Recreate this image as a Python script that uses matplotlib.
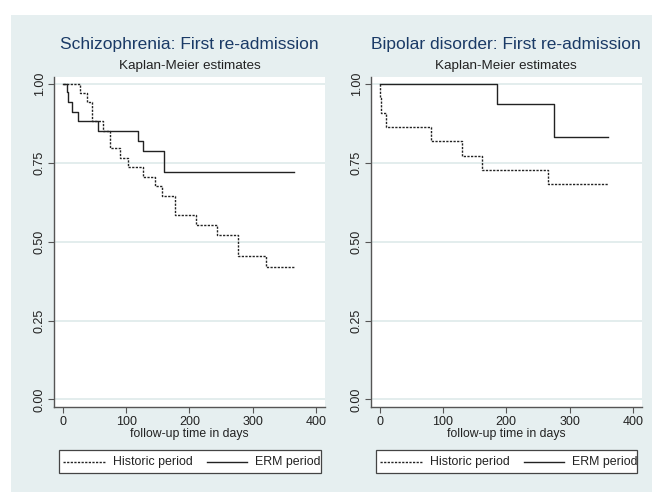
import matplotlib
matplotlib.use("Agg")
import matplotlib.pyplot as plt
from matplotlib.patches import Rectangle
from matplotlib.lines import Line2D

plt.rcParams['font.family'] = ['Liberation Sans', 'DejaVu Sans']

# ---- data ----
schiz_hist_t = [0, 26.8, 37.4, 46.3, 63.6, 74.2, 90, 103.1, 126.8, 145.2, 155.8, 177.9, 209.5, 244.2, 276.7, 320.4]
schiz_hist_s = [1.0, 0.970, 0.942, 0.883, 0.852, 0.796, 0.765, 0.736, 0.706, 0.675, 0.646, 0.585, 0.554, 0.520, 0.455, 0.421]
schiz_hist_end = 366

schiz_erm_t = [0, 6.8, 8.4, 13.7, 24.2, 54.8, 118.9, 125.8, 159.9]
schiz_erm_s = [1.0, 0.974, 0.942, 0.912, 0.882, 0.852, 0.820, 0.789, 0.722]
schiz_erm_end = 365

bip_hist_t = [0, 0.5, 2, 9.5, 81, 130.5, 162, 266]
bip_hist_s = [1.0, 0.955, 0.909, 0.864, 0.818, 0.773, 0.727, 0.682]
bip_hist_end = 361

bip_erm_t = [0, 185.8, 275.1]
bip_erm_s = [1.0, 0.9375, 0.833]
bip_erm_end = 361

titles = ["Schizophrenia: First re-admission", "Bipolar disorder: First re-admission"]
subtitle = "Kaplan-Meier estimates"
xlabel = "follow-up time in days"
legend_labels = ["Historic period", "ERM period"]
xticks = [0, 100, 200, 300, 400]
yticks = [0.00, 0.25, 0.50, 0.75, 1.00]

BG = '#e6eff0'
GRID = '#e1ecec'
NAVY = '#1a3a66'
LINEC = '#222222'
DOT = (0, (1.6, 1.0))

W, H = 652, 493
fig = plt.figure(figsize=(W / 100, H / 100), dpi=100)
fig.patches.append(Rectangle((11 / W, 1 / H), 1 - 11 / W, (492 - 14.6) / H,
                             transform=fig.transFigure, facecolor=BG, edgecolor='none', zorder=-10))

def fx(px): return px / W
def fy(py): return 1 - py / H

panels = [
    (54.3, schiz_hist_t, schiz_hist_s, schiz_hist_end, schiz_erm_t, schiz_erm_s, schiz_erm_end, titles[0]),
    (371.0, bip_hist_t, bip_hist_s, bip_hist_end, bip_erm_t, bip_erm_s, bip_erm_end, titles[1]),
]
ax_w = 270.7
ax_top, ax_bot = 76.7, 407.3

for left, ht, hs, hend, et, es, eend, title in panels:
    ax = fig.add_axes([fx(left), fy(ax_bot), ax_w / W, (ax_bot - ax_top) / H])
    ax.set_facecolor('white')
    ax.set_xlim(-13.5, 414)
    ax.set_ylim(-0.025, 1.023)
    for yv in yticks:
        ax.axhline(yv, color=GRID, lw=1.3, zorder=0)
    ax.step(ht + [hend], hs + [hs[-1]], where='post', color=LINEC, lw=1.0, ls=DOT, zorder=3)
    ax.step(et + [eend], es + [es[-1]], where='post', color=LINEC, lw=1.0, ls='-', zorder=3)
    for s in ['top', 'right']:
        ax.spines[s].set_visible(False)
    for s in ['left', 'bottom']:
        ax.spines[s].set_color('#555555')
        ax.spines[s].set_linewidth(1.0)
    ax.set_xticks(xticks)
    ax.set_yticks(yticks)
    ax.set_yticklabels([f"{v:.2f}" for v in yticks], rotation=90, va='center')
    ax.tick_params(axis='both', direction='out', length=4, width=0.8, color='#555555',
                   labelsize=9, labelcolor='#222222', pad=2)
    ax.set_xlabel(xlabel, fontsize=8.8, color='#222222', labelpad=0)
    cx = fx(left + ax_w / 2)
    fig.text(cx, fy(45), title, ha='center', va='center', fontsize=12.5, color=NAVY)
    fig.text(cx, fy(66), subtitle, ha='center', va='center', fontsize=9.7, color='#222222')

    # legend box (drawn manually to match the layout)
    off = left - 54.3
    fig.patches.append(Rectangle((fx(59.3 + off), fy(473)), 261.4 / W, 23 / H,
                                 transform=fig.transFigure, facecolor='white',
                                 edgecolor='#444444', lw=0.9, zorder=1))
    ly = fy(461.5)
    fig.lines.append(Line2D([fx(63.3 + off), fx(105 + off)], [ly, ly], transform=fig.transFigure,
                            color=LINEC, lw=1.0, ls=DOT, zorder=2))
    fig.lines.append(Line2D([fx(207 + off), fx(247 + off)], [ly, ly], transform=fig.transFigure,
                            color=LINEC, lw=1.0, ls='-', zorder=2))
    fig.text(fx(113 + off), ly, legend_labels[0], ha='left', va='center', fontsize=8.9,
             color='#222222', zorder=3)
    fig.text(fx(320.5 + off), ly, legend_labels[1], ha='right', va='center', fontsize=8.9,
             color='#222222', zorder=3)

fig.savefig('out.png', dpi=100)
